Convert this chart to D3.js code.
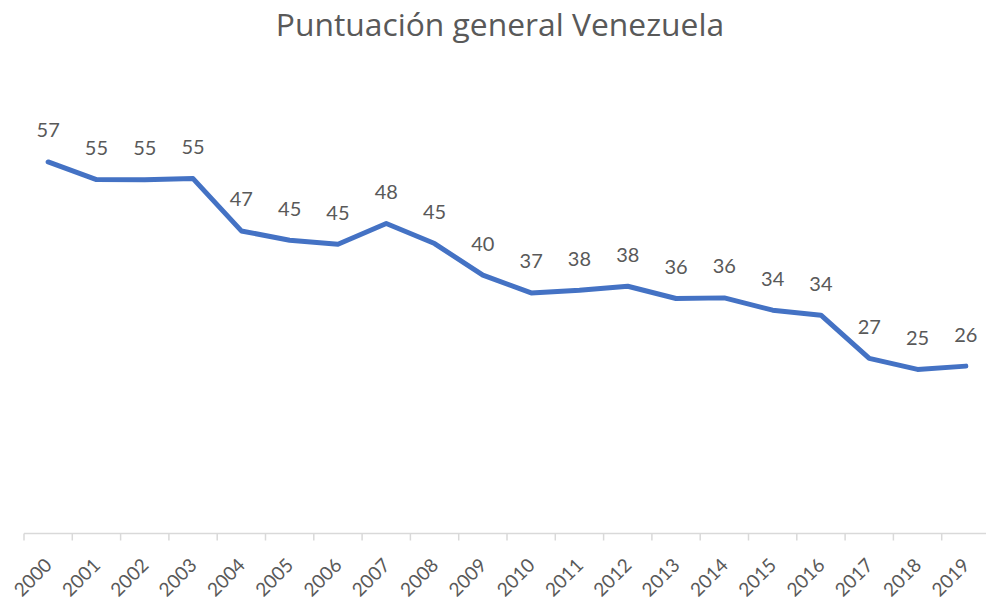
<!DOCTYPE html>
<html>
<head>
<meta charset="utf-8">
<script src="https://cdn.jsdelivr.net/npm/d3@7"></script>
<style>
  html, body { margin: 0; padding: 0; background: #ffffff; }
  svg { display: block; }
</style>
</head>
<body>
<svg id="chart" width="986" height="606"></svg>
<script>
// Overall score per year
const years = ["2000","2001","2002","2003","2004","2005","2006","2007","2008","2009",
               "2010","2011","2012","2013","2014","2015","2016","2017","2018","2019"];
const scores = [57.38, 54.66, 54.63, 54.81, 46.73, 45.29, 44.68, 47.87, 44.78, 39.89,
                37.16, 37.58, 38.19, 36.30, 36.39, 34.49, 33.72, 27.04, 25.34, 25.85];
const yDomain = [0, 60];
const titleText = "Puntuación general Venezuela";

const width = 986, height = 606;
const margin = { top: 145, right: -4, bottom: 72.5, left: 24 };
const svg = d3.select("#chart");
const font = "Lato, 'Open Sans', sans-serif";
const titleFont = "'Open Sans', Lato, sans-serif";
const textColor = "#595959";

const x = d3.scaleBand()
  .domain(years)
  .range([margin.left, width - margin.right])
  .paddingInner(0).paddingOuter(0);

const y = d3.scaleLinear()
  .domain(yDomain)
  .range([height - margin.bottom, margin.top]);

// Title
svg.append("text")
  .attr("x", 500)
  .attr("y", 36)
  .attr("text-anchor", "middle")
  .attr("font-family", titleFont)
  .attr("font-size", 31.8)
  .attr("fill", textColor)
  .text(titleText);

// Category axis: ticks at category boundaries
const axisY = y(0);
const axisG = svg.append("g").attr("transform", `translate(0,${axisY})`);
axisG.append("line")
  .attr("x1", x.range()[0]).attr("x2", x.range()[1])
  .attr("y1", 0).attr("y2", 0)
  .attr("stroke", "#d9d9d9").attr("stroke-width", 1.5);

const boundaries = years.map(d => x(d)).concat([x(years[years.length - 1]) + x.bandwidth()]);
axisG.selectAll("line.tick")
  .data(boundaries)
  .join("line")
  .attr("class", "tick")
  .attr("x1", d => d).attr("x2", d => d)
  .attr("y1", 0).attr("y2", 7)
  .attr("stroke", "#d9d9d9").attr("stroke-width", 1.5);

axisG.selectAll("text.year")
  .data(years)
  .join("text")
  .attr("class", "year")
  .attr("transform", d => `translate(${x(d) + x.bandwidth() / 2 + 5},33) rotate(-45)`)
  .attr("text-anchor", "end")
  .attr("font-family", font)
  .attr("font-size", 19)
  .attr("fill", textColor)
  .text(d => d);

// Series line
const cx = d => x(d) + x.bandwidth() / 2;
const line = d3.line()
  .x((d, i) => cx(years[i]))
  .y(d => y(d));

svg.append("path")
  .datum(scores)
  .attr("d", line)
  .attr("fill", "none")
  .attr("stroke", "#4472c4")
  .attr("stroke-width", 5)
  .attr("stroke-linejoin", "round")
  .attr("stroke-linecap", "round");

// Data labels above each point
const fmt = d3.format(".0f");
svg.selectAll("text.value")
  .data(scores)
  .join("text")
  .attr("class", "value")
  .attr("x", (d, i) => cx(years[i]))
  .attr("y", d => y(d) - 24.5)
  .attr("text-anchor", "middle")
  .attr("font-family", font)
  .attr("font-size", 20)
  .attr("fill", textColor)
  .text(d => fmt(d));
</script>
</body>
</html>
